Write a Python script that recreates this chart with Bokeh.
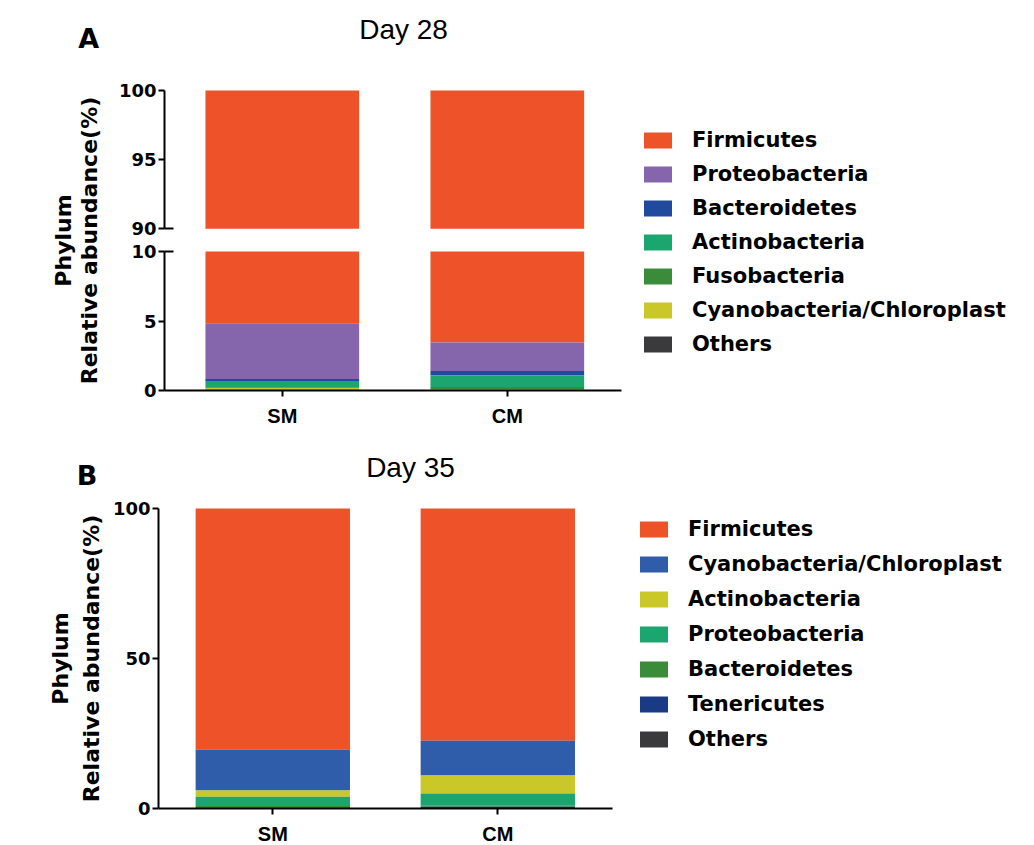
import numpy as np
from bokeh.plotting import figure
from bokeh.models import Range1d, LinearAxis, FixedTicker, Label, Legend, LegendItem
from bokeh.layouts import column
from bokeh.embed import file_html
from bokeh.resources import INLINE

# ---------------- data ----------------
groups = ["SM", "CM"]

phyla_28 = ["Firmicutes", "Proteobacteria", "Bacteroidetes", "Actinobacteria",
            "Fusobacteria", "Cyanobacteria/Chloroplast", "Others"]
day28_SM = [95.17, 4.00, 0.20, 0.40, 0.05, 0.15, 0.03]
day28_CM = [96.55, 2.05, 0.30, 0.85, 0.15, 0.05, 0.05]
colors_28 = ["#ED5229", "#8565AC", "#1F4A9E", "#1CA66F", "#3B8C3A", "#C9C828", "#3A3A3C"]

phyla_35 = ["Firmicutes", "Cyanobacteria/Chloroplast", "Actinobacteria", "Proteobacteria",
            "Bacteroidetes", "Tenericutes", "Others"]
day35_SM = [80.4, 13.6, 2.1, 3.1, 0.3, 0.2, 0.3]
day35_CM = [77.4, 11.6, 6.0, 4.1, 0.3, 0.4, 0.2]
colors_35 = ["#ED5229", "#2F5DAA", "#C9C828", "#1CA66F", "#3B8C3A", "#1B3A85", "#3A3A3C"]

ticks_28_low = [0, 5, 10]
ticks_28_high = [90, 95, 100]
ticks_35 = [0, 50, 100]
break_low, break_high = 10, 90


def stacks(rows):
    arr = np.array(rows, dtype=float)          # groups x phyla, first phylum on top
    rev = arr[:, ::-1]
    tops_rev = np.cumsum(rev, axis=1)
    bottoms_rev = tops_rev - rev
    return bottoms_rev[:, ::-1], tops_rev[:, ::-1]


xs = list(range(len(groups)))
BOLD = "DejaVu Sans"
W = 1030


def style_axis(ax, size="18px", font=BOLD, standoff=2):
    ax.axis_line_width = 2
    ax.axis_line_color = "black"
    ax.major_tick_line_width = 2
    ax.major_tick_line_color = "black"
    ax.major_tick_out = 6
    ax.major_tick_in = 0
    ax.minor_tick_line_color = None
    ax.major_label_text_font = font
    ax.major_label_text_font_style = "bold"
    ax.major_label_text_font_size = size
    ax.major_label_text_color = "black"
    ax.major_label_standoff = standoff


def make_legend(items, loc, spacing):
    return Legend(items=items, location=loc, label_text_font=BOLD,
                  label_text_font_style="bold", label_text_font_size="21px",
                  label_text_color="black", glyph_width=35, glyph_height=20,
                  label_standoff=17, spacing=spacing, padding=0, margin=0,
                  border_line_color=None, background_fill_alpha=0)


def base_fig(h, xr, yr):
    p = figure(width=W, height=h, x_range=xr, y_range=yr, output_backend="svg",
               toolbar_location=None, x_axis_location=None, y_axis_location=None,
               min_border=0)
    p.outline_line_color = None
    p.xgrid.visible = False
    p.ygrid.visible = False
    p.background_fill_color = "white"
    return p


def add_label(p, x, y, text, font, size, bold=True, angle=0.0, baseline="alphabetic",
              rng="default"):
    p.add_layout(Label(x=x, y=y, y_range_name=rng, text=text, text_font=font,
                       text_font_style="bold" if bold else "normal", text_font_size=size,
                       text_align="center", text_baseline=baseline, angle=angle,
                       text_color="black"))


# ---------------- panel A (Day 28, broken axis) ----------------
HA = 432
xa_axis = -0.5236                     # y-axis position (data x)
xa0 = -281.8 / 225
pA = base_fig(HA, Range1d(xa0, xa0 + W / 225), Range1d(-(HA - 390) / 13.9, 390 / 13.9))
pA.extra_y_ranges = {"upper": Range1d(100 - (HA - 90) / 13.83, 100 + 90 / 13.83)}

bA, tA = stacks([day28_SM, day28_CM])
bw = 0.683
legA = []
for j, name in enumerate(phyla_28):
    b, t = bA[:, j], tA[:, j]
    r = pA.vbar(x=xs, bottom=np.minimum(b, break_low), top=np.minimum(t, break_low),
                width=bw, fill_color=colors_28[j], line_color=None)
    ub, ut = np.maximum(b, break_high), np.maximum(t, break_high)
    if np.any(ut > ub):
        pA.vbar(x=xs, bottom=ub, top=ut, width=bw, fill_color=colors_28[j],
                line_color=None, y_range_name="upper")
    legA.append(LegendItem(label=name, renderers=[r]))

xA = LinearAxis(ticker=FixedTicker(ticks=xs), fixed_location=0, bounds=(xa_axis, 1.5076),
                major_label_overrides={i: g for i, g in enumerate(groups)})
style_axis(xA, size="20px", font="Liberation Sans", standoff=8)
pA.add_layout(xA, "below")

lowA = LinearAxis(ticker=FixedTicker(ticks=ticks_28_low), bounds=(0, 10), fixed_location=xa_axis)
style_axis(lowA)
pA.add_layout(lowA, "left")

upA = LinearAxis(y_range_name="upper", ticker=FixedTicker(ticks=ticks_28_high),
                 bounds=(90, 100), fixed_location=xa_axis)
style_axis(upA)
pA.add_layout(upA, "left")

for rng, tk in (("upper", break_high), ("default", break_low)):
    cap = LinearAxis(y_range_name=rng, ticker=FixedTicker(ticks=[tk]), fixed_location=xa_axis)
    style_axis(cap)
    cap.major_tick_in = 9
    cap.major_tick_out = 0
    cap.axis_line_color = None
    cap.major_label_text_alpha = 0
    pA.add_layout(cap, "left")

pA.add_layout(make_legend(legA, (640, 76), 10))

add_label(pA, -0.861, 103.76, "A", BOLD, "27px", rng="upper")
add_label(pA, 0.539, 104.39, "Day 28", "Liberation Sans", "28px", bold=False, rng="upper")
add_label(pA, -0.973, 10.79, "Phylum", BOLD, "22px", angle=np.pi / 2, baseline="middle")
add_label(pA, -0.857, 10.79, "Relative abundance(%)", BOLD, "22px", angle=np.pi / 2,
          baseline="middle")

# ---------------- panel B (Day 35) ----------------
HB = 413
xb_axis = -0.508
xb0 = -272.3 / 225
pB = base_fig(HB, Range1d(xb0, xb0 + W / 225), Range1d(-(845 - 808) / 3, (808 - 432) / 3))

bB, tB = stacks([day35_SM, day35_CM])
bwB = 0.686
legB = []
for j, name in enumerate(phyla_35):
    r = pB.vbar(x=xs, bottom=bB[:, j], top=tB[:, j], width=bwB,
                fill_color=colors_35[j], line_color=None)
    legB.append(LegendItem(label=name, renderers=[r]))

xB = LinearAxis(ticker=FixedTicker(ticks=xs), fixed_location=0, bounds=(xb_axis, 1.51),
                major_label_overrides={i: g for i, g in enumerate(groups)})
style_axis(xB, size="20px", font="Liberation Sans", standoff=8)
pB.add_layout(xB, "below")

yB = LinearAxis(ticker=FixedTicker(ticks=ticks_35), bounds=(0, 100), fixed_location=xb_axis)
style_axis(yB)
pB.add_layout(yB, "left")

pB.add_layout(make_legend(legB, (636, 94), 11))

add_label(pB, -0.826, 111.0, "B", BOLD, "27px")
add_label(pB, 0.612, 113.66, "Day 35", "Liberation Sans", "28px", bold=False)
add_label(pB, -0.944, 50, "Phylum", BOLD, "22px", angle=np.pi / 2, baseline="middle")
add_label(pB, -0.806, 50, "Relative abundance(%)", BOLD, "22px", angle=np.pi / 2,
          baseline="middle")

layout = column(pA, pB)
open("out.html", "w").write(file_html(layout, INLINE))
